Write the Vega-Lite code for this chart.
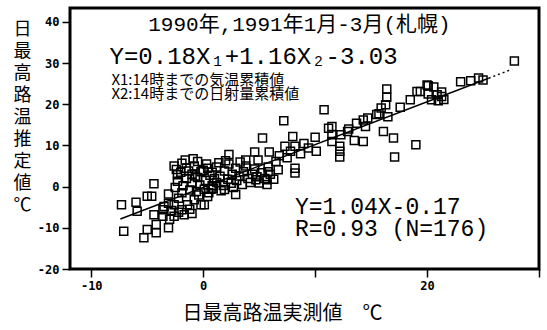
{
  "$schema": "https://vega.github.io/schema/vega-lite/v6.json",
  "width": 469,
  "height": 261,
  "autosize": {"type": "none"},
  "padding": {"left": 70, "top": 8, "right": 8, "bottom": 61},
  "background": "white",
  "config": {
    "view": {"stroke": "black", "strokeWidth": 3},
    "axis": {
      "domain": false,
      "grid": false,
      "tickColor": "black",
      "tickWidth": 1.5,
      "tickSize": 8,
      "labelColor": "black",
      "labelFont": "DejaVu Sans Mono",
      "labelFontSize": 12,
      "labelFontWeight": "bold",
      "labelOverlap": false,
      "labelFlush": false,
      "titleColor": "black",
      "titleFont": "Noto Sans CJK JP",
      "titleFontWeight": "normal"
    }
  },
  "layer": [
    {
      "data": {"values": [
        {"x": -7.3, "y": -4.4}, {"x": -7.1, "y": -10.8}, {"x": -6.0, "y": -3.8}, {"x": -5.9, "y": -6.0},
        {"x": -5.3, "y": -12.4}, {"x": -5.0, "y": -10.4}, {"x": -4.2, "y": -11.2}, {"x": -4.2, "y": -9.2},
        {"x": -5.0, "y": -2.3}, {"x": -4.6, "y": -2.3}, {"x": -4.4, "y": 0.7}, {"x": -4.4, "y": -6.8},
        {"x": -3.6, "y": -7.2}, {"x": -2.6, "y": -7.2}, {"x": -3.1, "y": -10.0}, {"x": -3.1, "y": -1.8},
        {"x": -3.1, "y": -4.0}, {"x": -3.6, "y": -5.6}, {"x": -2.6, "y": -4.4}, {"x": -1.9, "y": -5.6},
        {"x": -1.4, "y": -4.4}, {"x": -0.8, "y": -3.2}, {"x": 0.1, "y": -4.4}, {"x": -1.7, "y": -6.8},
        {"x": -0.2, "y": -4.4}, {"x": 0.4, "y": -2.4}, {"x": -3.5, "y": -4.8}, {"x": -2.8, "y": -5.8},
        {"x": -3.0, "y": -7.9}, {"x": -2.2, "y": -6.2}, {"x": -1.2, "y": -5.5}, {"x": -1.0, "y": -6.5},
        {"x": -2.3, "y": 2.9}, {"x": -2.3, "y": 1.3}, {"x": -1.9, "y": 5.7}, {"x": -0.5, "y": 6.1},
        {"x": 0.4, "y": 4.5}, {"x": -2.4, "y": 4.2}, {"x": -2.0, "y": 3.5}, {"x": -1.5, "y": 2.0},
        {"x": -1.5, "y": 4.5}, {"x": -1.0, "y": 1.0}, {"x": -1.0, "y": 3.0}, {"x": -0.8, "y": 5.0},
        {"x": -0.5, "y": 2.2}, {"x": -0.3, "y": 0.4}, {"x": -0.2, "y": 3.6}, {"x": 0.2, "y": 1.5},
        {"x": 0.3, "y": 5.5}, {"x": 0.6, "y": 2.8}, {"x": 0.8, "y": 0.2}, {"x": -1.8, "y": 0.2},
        {"x": -2.5, "y": -0.2}, {"x": -1.2, "y": -0.8}, {"x": -0.6, "y": -1.2}, {"x": 0.1, "y": -0.6},
        {"x": -1.6, "y": 6.5}, {"x": -0.9, "y": 6.8}, {"x": -2.6, "y": 5.0}, {"x": 0.0, "y": 4.0},
        {"x": -1.3, "y": 3.8}, {"x": -0.7, "y": 2.6}, {"x": 0.5, "y": -1.5}, {"x": -1.9, "y": -1.5},
        {"x": -2.2, "y": -2.8}, {"x": -0.4, "y": -2.0}, {"x": 0.9, "y": -0.4},
        {"x": 0.8, "y": 3.5}, {"x": 1.2, "y": 1.0}, {"x": 1.2, "y": 4.8}, {"x": 1.5, "y": 2.5},
        {"x": 1.8, "y": 0.3}, {"x": 1.9, "y": 3.8}, {"x": 2.2, "y": 1.8}, {"x": 2.3, "y": 5.5},
        {"x": 2.5, "y": 0.8}, {"x": 2.6, "y": 3.0}, {"x": 2.9, "y": 4.5}, {"x": 3.0, "y": 1.5},
        {"x": 3.2, "y": 2.6}, {"x": 3.5, "y": 0.5}, {"x": 3.6, "y": 3.6}, {"x": 3.8, "y": 5.0},
        {"x": 4.0, "y": 2.0}, {"x": 4.2, "y": 1.0}, {"x": 4.4, "y": 3.0}, {"x": 4.6, "y": 4.3},
        {"x": 4.8, "y": 2.4}, {"x": 5.0, "y": 0.9}, {"x": 5.2, "y": 3.4}, {"x": 5.5, "y": 2.0},
        {"x": 5.8, "y": 4.8}, {"x": 6.0, "y": 3.0}, {"x": 1.0, "y": 2.0}, {"x": 1.4, "y": 5.8},
        {"x": 2.0, "y": 6.3}, {"x": 2.7, "y": -0.2}, {"x": 3.3, "y": 6.0}, {"x": 0.7, "y": -0.6},
        {"x": 1.6, "y": -1.0}, {"x": 6.3, "y": 1.8}, {"x": 5.7, "y": 0.5},
        {"x": 2.9, "y": -1.9}, {"x": 1.9, "y": -0.7}, {"x": 5.7, "y": 1.7}, {"x": 4.7, "y": 1.7},
        {"x": 6.7, "y": 4.1}, {"x": 5.8, "y": 3.6}, {"x": 8.2, "y": 4.5}, {"x": 8.2, "y": 3.3},
        {"x": 7.5, "y": 7.0}, {"x": 6.5, "y": 6.1}, {"x": 4.9, "y": 6.5}, {"x": 3.8, "y": 6.5},
        {"x": 2.3, "y": 7.8}, {"x": 4.6, "y": 8.4}, {"x": 5.9, "y": 8.4}, {"x": 7.3, "y": 9.8},
        {"x": 8.2, "y": 9.8}, {"x": 9.4, "y": 9.4}, {"x": 10.1, "y": 8.6}, {"x": 5.3, "y": 11.8},
        {"x": 8.0, "y": 12.2}, {"x": 10.0, "y": 12.0}, {"x": 11.2, "y": 14.2}, {"x": 7.2, "y": 16.0},
        {"x": 10.8, "y": 18.7}, {"x": 6.8, "y": 7.5}, {"x": 7.8, "y": 8.6}, {"x": 9.0, "y": 10.5},
        {"x": 8.7, "y": 8.0},
        {"x": 11.5, "y": 14.6}, {"x": 11.5, "y": 12.6}, {"x": 12.3, "y": 12.6}, {"x": 12.9, "y": 13.4},
        {"x": 11.5, "y": 11.0}, {"x": 12.2, "y": 9.8}, {"x": 12.2, "y": 8.6}, {"x": 12.2, "y": 7.2},
        {"x": 13.5, "y": 11.2}, {"x": 14.3, "y": 11.0}, {"x": 13.7, "y": 15.4}, {"x": 14.3, "y": 16.2},
        {"x": 14.7, "y": 16.7}, {"x": 14.5, "y": 14.6}, {"x": 15.7, "y": 17.7}, {"x": 16.5, "y": 17.0},
        {"x": 16.1, "y": 13.4}, {"x": 17.0, "y": 11.8}, {"x": 19.0, "y": 10.2}, {"x": 17.1, "y": 7.2},
        {"x": 17.6, "y": 19.3}, {"x": 18.5, "y": 21.1}, {"x": 16.4, "y": 23.7}, {"x": 16.4, "y": 21.7},
        {"x": 16.3, "y": 19.9}, {"x": 15.9, "y": 19.1}, {"x": 15.5, "y": 17.5}, {"x": 19.1, "y": 23.1},
        {"x": 19.4, "y": 23.1}, {"x": 20.1, "y": 24.5}, {"x": 20.6, "y": 24.2}, {"x": 20.1, "y": 22.5},
        {"x": 20.9, "y": 22.3}, {"x": 21.0, "y": 20.9}, {"x": 20.4, "y": 21.1}, {"x": 21.3, "y": 21.9},
        {"x": 21.3, "y": 23.0}, {"x": 21.5, "y": 21.2}, {"x": 20.0, "y": 24.7}, {"x": 23.0, "y": 25.5},
        {"x": 23.9, "y": 25.7}, {"x": 24.6, "y": 26.4}, {"x": 25.0, "y": 25.9}, {"x": 27.8, "y": 30.5},
        {"x": 13.0, "y": 14.0}
      ]},
      "mark": {"type": "point", "shape": "square", "filled": false, "stroke": "black", "strokeWidth": 1.5, "size": 64, "opacity": 1},
      "encoding": {
        "x": {
          "field": "x", "type": "quantitative",
          "scale": {"domain": [-11.9, 30], "nice": false, "zero": false},
          "axis": {
            "values": [-10, 0, 10, 20, 30],
            "labelExpr": "datum.value == 10 || datum.value == 30 ? '' : toString(datum.value)",
            "labelPadding": 3,
            "title": "日最高路温実測値　℃",
            "titleFontSize": 20,
            "titleX": 212,
            "titleY": 44,
            "titleAlign": "center",
            "titleBaseline": "middle"
          }
        },
        "y": {
          "field": "y", "type": "quantitative",
          "scale": {"domain": [-20, 43.4], "nice": false, "zero": false},
          "axis": {
            "values": [-20, -10, 0, 10, 20, 30, 40],
            "labelExpr": "toString(datum.value)",
            "labelPadding": 3,
            "title": ["日", "最", "高", "路", "温", "推", "定", "値", "℃"],
            "titleAngle": 0,
            "titleFontSize": 18,
            "titleLineHeight": 22,
            "titleX": -48,
            "titleY": 12,
            "titleAlign": "center",
            "titleBaseline": "top"
          }
        }
      }
    },
    {
      "mark": {"type": "rule", "stroke": "black", "strokeWidth": 1},
      "encoding": {"x": {"datum": 0, "type": "quantitative"}}
    },
    {
      "mark": {"type": "rule", "stroke": "black", "strokeWidth": 1},
      "encoding": {"y": {"datum": 0, "type": "quantitative"}}
    },
    {
      "data": {"values": [
        {"x": -7.4, "y": -7.87},
        {"x": 25.5, "y": 26.35}
      ]},
      "mark": {"type": "line", "stroke": "black", "strokeWidth": 1.5},
      "encoding": {
        "x": {"field": "x", "type": "quantitative"},
        "y": {"field": "y", "type": "quantitative"}
      }
    },
    {
      "data": {"values": [
        {"x": 25.5, "y": 26.35},
        {"x": 27.6, "y": 28.53}
      ]},
      "mark": {"type": "line", "stroke": "black", "strokeWidth": 1.5, "strokeDash": [2, 3]},
      "encoding": {
        "x": {"field": "x", "type": "quantitative"},
        "y": {"field": "y", "type": "quantitative"}
      }
    },
    {
      "data": {"values": [
        {"x": 8.6, "y": 39.3, "t": "1990年,1991年1月-3月(札幌)"}
      ]},
      "mark": {"type": "text", "font": "Liberation Mono, DejaVu Sans Mono, Noto Sans CJK JP", "fontSize": 21, "align": "center", "baseline": "middle", "color": "black"},
      "encoding": {
        "x": {"field": "x", "type": "quantitative"},
        "y": {"field": "y", "type": "quantitative"},
        "text": {"field": "t"}
      }
    },
    {
      "data": {"values": [
        {"x": 4.5, "y": 31.6, "t": "Y=0.18X₁+1.16X₂-3.03"}
      ]},
      "mark": {"type": "text", "font": "Liberation Mono, DejaVu Sans Mono", "fontSize": 24, "align": "center", "baseline": "middle", "color": "black"},
      "encoding": {
        "x": {"field": "x", "type": "quantitative"},
        "y": {"field": "y", "type": "quantitative"},
        "text": {"field": "t"}
      }
    },
    {
      "data": {"values": [
        {"x": -8.2, "y": 26.0, "t": "X1:14時までの気温累積値"},
        {"x": -8.2, "y": 22.4, "t": "X2:14時までの日射量累積値"}
      ]},
      "mark": {"type": "text", "font": "Noto Sans CJK JP", "fontSize": 15, "align": "left", "baseline": "middle", "color": "black"},
      "encoding": {
        "x": {"field": "x", "type": "quantitative"},
        "y": {"field": "y", "type": "quantitative"},
        "text": {"field": "t"}
      }
    },
    {
      "data": {"values": [
        {"x": 8.2, "y": -4.9, "t": "Y=1.04X-0.17"},
        {"x": 8.2, "y": -10.4, "t": "R=0.93 (N=176)"}
      ]},
      "mark": {"type": "text", "font": "Liberation Mono", "fontSize": 23, "align": "left", "baseline": "middle", "color": "black"},
      "encoding": {
        "x": {"field": "x", "type": "quantitative"},
        "y": {"field": "y", "type": "quantitative"},
        "text": {"field": "t"}
      }
    }
  ]
}
